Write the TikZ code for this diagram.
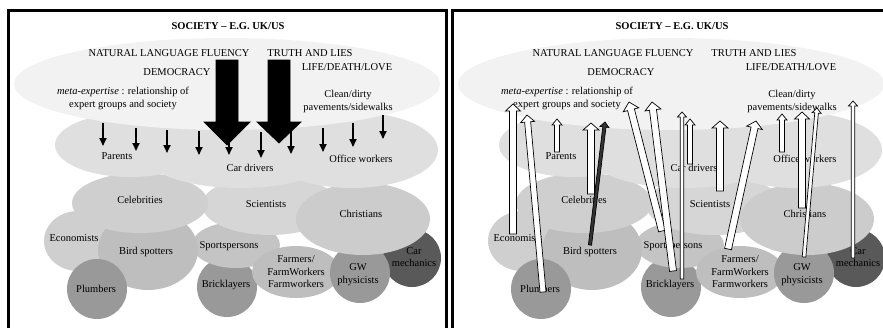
\documentclass[tikz,border=0pt]{standalone}
\usepackage{fontspec}
\setmainfont{Liberation Serif}
\usetikzlibrary{arrows.meta,calc}

\definecolor{skygray}{gray}{0.95}
\definecolor{dailygray}{gray}{0.875}
\definecolor{celebgray}{gray}{0.81}
\definecolor{scigray}{gray}{0.84}
\definecolor{chrgray}{gray}{0.80}
\definecolor{ecogray}{gray}{0.81}
\definecolor{birdgray}{gray}{0.745}
\definecolor{sportgray}{gray}{0.77}
\definecolor{farmgray}{gray}{0.745}
\definecolor{tradegray}{gray}{0.60}
\definecolor{mechgray}{gray}{0.35}

\tikzset{
  grp/.style={font=\fontsize{10.5}{12.5}\selectfont, align=center, inner sep=0pt},
  title/.style={font=\fontsize{10.5}{12.5}\selectfont\bfseries, inner sep=0pt},
  frame/.style={line width=3pt},
  downarr/.style={line width=1.7pt, -{Triangle[width=7pt,length=8pt]}},
}

% block arrow: [fill] tail, tip, half shaft, half head, head length
\newcommand{\blockarrow}[6][white]{%
  \coordinate (ah) at ($(#3)!#6!(#2)$);
  \filldraw[fill=#1, line width=0.7pt, line join=miter]
    ($(#2)!#4!90:(#3)$) -- ($(ah)!#4!90:(#3)$) -- ($(ah)!#5!90:(#3)$) -- (#3)
    -- ($(ah)!#5!-90:(#3)$) -- ($(ah)!#4!-90:(#3)$) -- ($(#2)!#4!-90:(#3)$) -- cycle;
}

\begin{document}
\begin{tikzpicture}[x=1pt, y=-1pt]
\useasboundingbox (0,0) rectangle (883,327);

\foreach \p/\dx in {L/0,R/444}{
\begin{scope}[xshift=\dx pt]
  \draw[frame] (8.5,10.5) rectangle (446.5,340);
  % groups, back to front
  \fill[tradegray] (227,287) circle [radius=30pt];
  \fill[sportgray] (236,245) ellipse [x radius=44pt, y radius=23pt];
  \fill[farmgray] (296,272) ellipse [x radius=44pt, y radius=26pt];
  \fill[mechgray] (412,258) circle [radius=29pt];
  \fill[tradegray] (360,273) circle [radius=30pt];
  \fill[ecogray] (78,241) ellipse [x radius=34pt, y radius=30pt];
  \fill[birdgray] (148,250) ellipse [x radius=50pt, y radius=40pt];
  \fill[tradegray] (97,289) circle [radius=30pt];
  \fill[scigray] (270,205) ellipse [x radius=68pt, y radius=30pt];
  \fill[chrgray] (363,219) ellipse [x radius=67pt, y radius=36pt];
  \fill[celebgray] (140,203) ellipse [x radius=68pt, y radius=30pt];
  \fill[dailygray] (130,145) ellipse [x radius=75pt, y radius=32pt];
  \fill[dailygray] (240,155) ellipse [x radius=95pt, y radius=33pt];
  \fill[dailygray] (352,150) ellipse [x radius=86pt, y radius=38pt];
  \fill[skygray] (227,84) ellipse [x radius=213pt, y radius=46pt];

  \node[title] (society\p) at (228,26) {SOCIETY -- E.G. UK/US};
  \node[grp] (fluency\p) at (169,53) {NATURAL LANGUAGE FLUENCY};
  \node[grp] (truth\p) at (310,53) {TRUTH AND LIES};
  \node[grp] (life\p) at (347,67) {LIFE/DEATH/LOVE};
  \node[grp] (democracy\p) at (177,72) {DEMOCRACY};
  \node[grp] (meta\p) at (123,98.5) {\textit{meta-expertise} : relationship of\\expert groups and society};
  \node[grp] (clean\p) at (348,101.5) {Clean/dirty\\pavements/sidewalks};
  \node[grp] (parents\p) at (117,156) {Parents};
  \node[grp] (drivers\p) at (250,168) {Car drivers};
  \node[grp] (office\p) at (361,159) {Office workers};
  \node[grp] (celebs\p) at (140,200) {Celebrities};
  \node[grp] (scientists\p) at (266,204) {Scientists};
  \node[grp] (christians\p) at (361,214) {Christians};
  \node[grp] (economists\p) at (74,238) {Economists};
  \node[grp] (birds\p) at (146,252) {Bird spotters};
  \node[grp] (sports\p) at (229,246) {Sportspersons};
  \node[grp] (farmers\p) at (296,272) {Farmers/\\FarmWorkers\\Farmworkers};
  \node[grp] (plumbers\p) at (96,289) {Plumbers};
  \node[grp] (bricks\p) at (226,285) {Bricklayers};
  \node[grp] (gw\p) at (358,274.5) {GW\\physicists};
  \node[grp] (mech\p) at (414,257) {Car\\mechanics};
\end{scope}
}

% society acting on the groups
\foreach \i/\x/\ya/\yb in {1/103/123/146, 2/136/128/151, 3/167/130/153, 4/199/131/155,
    5/229/132/155, 6/261/132/158, 7/291/130/154, 8/323/128/152, 9/353/123/147, 10/383/115/139}{
  \coordinate (down\i-a) at (\x,\ya);
  \coordinate (down\i-b) at (\x,\yb);
  \draw[downarr] (down\i-a) -- (down\i-b);
}
\coordinate (bigA-tail) at (227,60);
\coordinate (bigA-tip) at (227,145);
\coordinate (bigB-tail) at (279,60);
\coordinate (bigB-tip) at (279,143);
\blockarrow[black]{bigA-tail}{bigA-tip}{11pt}{23pt}{23pt}
\blockarrow[black]{bigB-tail}{bigB-tip}{11pt}{22pt}{21pt}

% groups acting on society
\foreach \n/\tx/\ty/\hx/\hy/\w/\h/\l in {
    eco/513/234/513/104/3.5pt/7.5pt/7pt, plu/543/292/527/115/3pt/7pt/7pt,
    par/557/152/557/119/2.5pt/5pt/6pt, cel/591/194/591/123/3.5pt/8pt/7pt,
    spo/662/231/629/102/3.5pt/8pt/8pt, bri/673/271/652/102/3.5pt/8pt/8pt,
    bri2/682/279/682/112/1.8pt/4.5pt/5pt, car/690/164/690/119/2.5pt/5pt/6pt,
    sci/720/191/720/121/3.5pt/8pt/7pt, far/728/249/756/121/3.5pt/8pt/7pt,
    off/782/152/782/114/2.5pt/5pt/6pt, chr/802/208/802/112/3.5pt/7.5pt/7pt,
    gwp/804/257/817/108/1.8pt/4.5pt/5pt, mec/853/258/853/101/1.8pt/4.5pt/5pt}{
  \coordinate (\n-tail) at (\tx,\ty);
  \coordinate (\n-tip) at (\hx,\hy);
  \blockarrow{\n-tail}{\n-tip}{\w}{\h}{\l}
}
\coordinate (bir-tail) at (590,245);
\coordinate (bir-tip) at (605,122);
\blockarrow[black!80]{bir-tail}{bir-tip}{1.6pt}{4.5pt}{5pt}
\end{tikzpicture}
\end{document}
